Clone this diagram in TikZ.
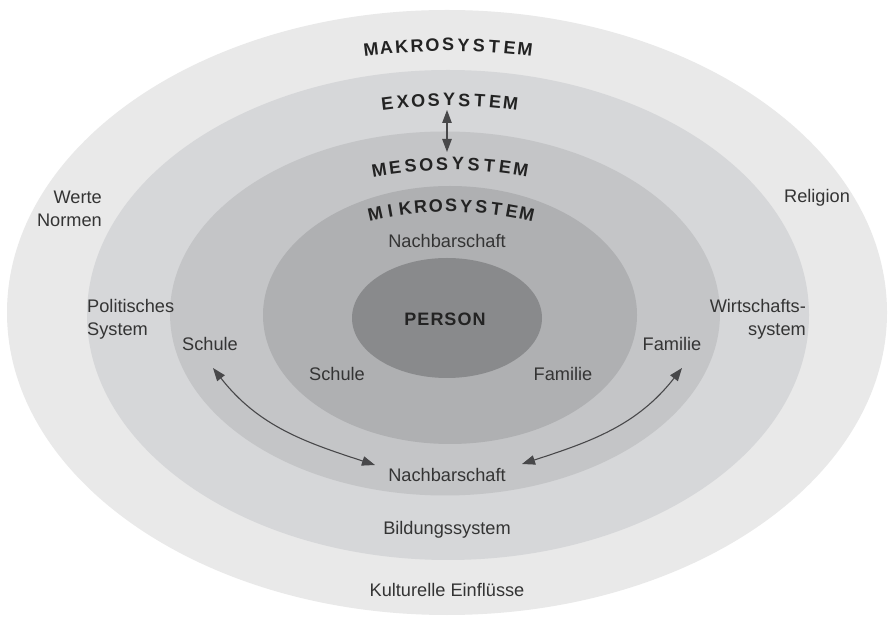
\documentclass[tikz,border=0pt]{standalone}
\usepackage{fontspec}
\setmainfont{Liberation Sans}
\usetikzlibrary{calc,arrows.meta}

\definecolor{ringA}{RGB}{233,233,233}
\definecolor{ringB}{RGB}{214,215,217}
\definecolor{ringC}{RGB}{196,197,199}
\definecolor{ringD}{RGB}{175,176,178}
\definecolor{core}{RGB}{137,138,140}
\definecolor{txt}{RGB}{52,52,52}
\definecolor{head}{RGB}{35,35,35}
\definecolor{arr}{RGB}{72,72,74}

\newcommand\hdfont{\bfseries\fontsize{18}{21}\selectfont}
\newcommand\lblfont{\fontsize{18.2}{23}\selectfont}

% Letter-by-letter heading set on a circular arc.
% #1 name prefix, #2 centre x, #3 baseline y at the apex, #4 radius,
% #5 total width of the word, #6 comma separated letters
\newlength\chw
\newcommand\arcword[6]{%
  \gdef\awsum{0}\gdef\awn{0}%
  \foreach \cc in {#6}{%
    \settowidth{\chw}{\hdfont\cc}%
    \pgfmathsetmacro\awtmp{\awsum+\chw}\xdef\awsum{\awtmp}%
    \pgfmathtruncatemacro\awtmp{\awn+1}\xdef\awn{\awtmp}}%
  \pgfmathsetmacro\awgap{(#5-\awsum)/(\awn-1)}%
  \gdef\awacc{0}%
  \foreach \cc [count=\ci] in {#6}{%
    \settowidth{\chw}{\hdfont\cc}%
    \pgfmathsetmacro\aws{\awacc+\chw/2-#5/2}%
    \pgfmathsetmacro\awang{90-deg(\aws/#4)}%
    \node[hdletter, rotate=\awang-90] (#1-\ci) at ($(#2,#3-#4)+(\awang:#4)$) {\cc};
    \pgfmathsetmacro\awtmp{\awacc+\chw+\awgap}\xdef\awacc{\awtmp}}%
}

\begin{document}
\begin{tikzpicture}[x=1pt,y=1pt,
  hdletter/.style={font=\hdfont, text=head, inner sep=0pt, anchor=base},
  lbl/.style={font=\lblfont, text=txt, inner sep=0pt, anchor=base},
  lbl2/.style={font=\lblfont, text=txt, inner sep=0pt},
  conn/.style={draw=arr, line width=1.1pt, <->, >={Triangle[length=13pt,width=9.5pt]}}]

\useasboundingbox (0,0) rectangle (888,618);
\fill[white] (0,0) rectangle (888,618);

% nested systems
\fill[ringA] (447,305.5) ellipse [x radius=440pt, y radius=302.5pt];
\fill[ringB] (448,303) ellipse [x radius=361pt, y radius=245pt];
\fill[ringC] (445,304.5) ellipse [x radius=275pt, y radius=182pt];
\fill[ringD] (450,303) ellipse [x radius=187pt, y radius=129pt];
\fill[core]  (447,300) ellipse [x radius=95pt, y radius=60pt];

% system headings
\arcword{makro}{448}{567}{640}{153}{M,A,K,R,O,S,Y,S,T,E,M}
\arcword{exo}{449}{512}{500}{122}{E,X,O,S,Y,S,T,E,M}
\arcword{meso}{450}{448}{420}{140}{M,E,S,O,S,Y,S,T,E,M}
\arcword{mikro}{451}{406}{340}{150}{M,I,K,R,O,S,Y,S,T,E,M}

\node[hdletter] (person) at (445,292) {P\kern1pt E\kern1pt R\kern1pt S\kern1pt O\kern1pt N};

% labels
\node[lbl] (nachO) at (447,370) {Nachbarschaft};
\node[lbl] (schuleI) at (337,237) {Schule};
\node[lbl] (familieI) at (563,237) {Familie};
\node[lbl] (schuleO) at (210,267) {Schule};
\node[lbl] (familieO) at (672,267) {Familie};
\node[lbl] (nachU) at (447,136) {Nachbarschaft};
\node[lbl] (bildung) at (447,83) {Bildungssystem};
\node[lbl] (kultur) at (447,22) {Kulturelle Einflüsse};
\node[lbl] (religion) at (817,415) {Religion};
\node[lbl2, align=right, anchor=east] (werte) at (102,409.5) {Werte\\Normen};
\node[lbl2, align=left, anchor=west] (politik) at (87,299) {Politisches\\System};
\node[lbl2, align=right, anchor=east] (wirtschaft) at (806,299) {Wirtschafts-\\system};

% connector ends
\coordinate (vA) at (447,508);
\coordinate (vB) at (447,466);
\coordinate (lsA) at ($(schuleO.base)+(3,-17)$);
\coordinate (lsB) at ($(nachU.base)+(-72,17)$);
\coordinate (rsA) at ($(nachU.base)+(75,18)$);
\coordinate (rsB) at ($(familieO.base)+(10,-17)$);

\draw[conn] (vA) -- (vB);
\draw[conn] (lsA) to[out=-52,in=162] (lsB);
\draw[conn] (rsA) to[out=18,in=-128] (rsB);
\end{tikzpicture}
\end{document}
